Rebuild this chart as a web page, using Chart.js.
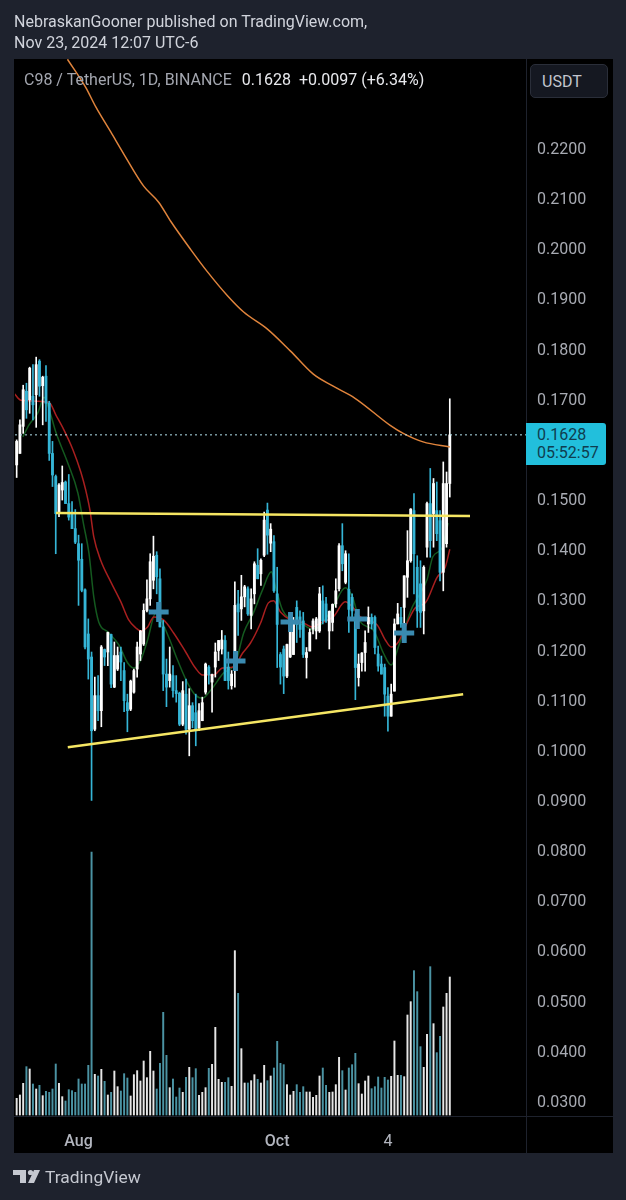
<!DOCTYPE html>
<html>
<head>
<meta charset="utf-8">
<title>C98 / TetherUS</title>
<script src="https://cdn.jsdelivr.net/npm/chart.js@4"></script>
<style>
  html, body { margin: 0; padding: 0; background: #1e222d; }
  body { position: relative; width: 626px; height: 1200px; overflow: hidden; font-family: Roboto, sans-serif; }
  .abs { position: absolute; white-space: pre; }
  #panel { left: 14px; top: 59px; width: 599px; height: 1094px; background: #000; }
  #vline { left: 526px; top: 59px; width: 1px; height: 1094px; background: #1e222d; }
  #hline { left: 14px; top: 1116px; width: 599px; height: 1px; background: #1e222d; }
  #toolChart { position: absolute; left: 0; top: 0; }
  .head { left: 14px; color: #d1d4dc; font-size: 16px; line-height: 20px; }
  #legend { left: 24px; top: 70px; font-size: 16px; line-height: 20px; color: #a3a6af; }
  #legend b { font-weight: 400; color: #e8e9ed; margin-left: 6px; }
  #usdt { left: 530px; top: 64px; width: 78px; height: 34px; box-sizing: border-box; border: 1px solid #2a2e39; border-radius: 5px; background: #151821; color: #c3c6ce; font-size: 16px; line-height: 33px; padding-left: 11px; }
  #priceTag { left: 526px; top: 423px; width: 80px; height: 42px; background: #22bfdc; border-radius: 0 3px 3px 0; color: #0f3d4f; font-size: 16px; line-height: 18px; padding: 3px 0 0 11px; box-sizing: border-box; }
  #brand { left: 45px; top: 1166px; color: #c5c8d0; font-size: 17.4px; line-height: 22px; }
  #logo { left: 13px; top: 1169px; }
</style>
</head>
<body>
<div class="abs" id="panel"></div>
<div class="abs" id="vline"></div>
<div class="abs" id="hline"></div>
<canvas id="toolChart" width="626" height="1200"></canvas>
<div class="abs head" style="top:12px">NebraskanGooner published on TradingView.com,</div>
<div class="abs head" style="top:33px">Nov 23, 2024 12:07 UTC-6</div>
<div class="abs" id="legend">C98 / TetherUS, 1D, BINANCE <b>0.1628  +0.0097 (+6.34%)</b></div>
<div class="abs" id="usdt">USDT</div>
<div class="abs" id="priceTag">0.1628
05:52:57</div>
<svg class="abs" id="logo" width="28" height="15" viewBox="0 0 28 15">
  <path d="M0 1h13v13H7V6H0z M27 1l-6 13h-6l6-13z" fill="#c5c8d0"/>
  <circle cx="17.5" cy="3.5" r="2.6" fill="#c5c8d0"/>
</svg>
<div class="abs" id="brand">TradingView</div>

<script>
// ==================== C98 / USDT daily chart ====================

const opens = [
  .1568,.1591,.1645,.1715,.1698,.1705,.1708,.1775,.1726,.1745,
  .1691,.1591,.1545,.1471,.1518,.1534,.1491,.1474,.1441,.1411,
  .1380,.1319,.1231,.1185,.1041,.1108,.1078,.1200,.1195,.1230,
  .1125,.1161,.1195,.1158,.1094,.1081,.1115,.1161,.1191,.1211,
  .1278,.1301,.1338,.1388,.1341,.1245,.1151,.1138,.1148,.1118,
  .1113,.1051,.1111,.1041,.1088,.1074,.1044,.1058,.1115,.1165,
  .1135,.1165,.1198,.1201,.1218,.1165,.1128,.1158,.1291,.1281,
  .1305,.1321,.1268,.1311,.1368,.1351,.1388,.1478,.1412,.1415,
  .1311,.1190,.1201,.1147,.1185,.1190,.1284,.1265,.1257,.1184,
  .1197,.1241,.1237,.1237,.1297,.1291,.1237,.1254,.1291,.1321,
  .1407,.1334,.1320,.1304,.1264,.1144,.1174,.1194,.1251,.1264,
  .1264,.1191,.1171,.1164,.1107,.1067,.1117,.1251,.1264,.1284,
  .1344,.1377,.1477,.1364,.1331,.1277,.1404,.1491,.1471,.1477,
  .1457,.1354,.1411,.1531
];
const highs = [
  .1618,.1658,.1727,.1731,.1763,.1768,.1783,.1778,.1745,.1766,
  .1695,.1615,.1548,.1531,.1566,.1536,.1549,.1495,.1479,.1428,
  .1411,.1321,.1261,.1195,.1145,.1148,.1208,.1201,.1235,.1231,
  .1215,.1205,.1205,.1174,.1111,.1139,.1161,.1215,.1238,.1291,
  .1339,.1391,.1426,.1395,.1361,.1258,.1181,.1205,.1168,.1148,
  .1115,.1136,.1141,.1122,.1094,.1111,.1092,.1105,.1173,.1168,
  .1151,.1213,.1218,.1238,.1228,.1195,.1158,.1335,.1318,.1348,
  .1328,.1325,.1321,.1375,.1401,.1381,.1474,.1492,.1451,.1427,
  .1364,.1194,.1207,.1211,.1264,.1264,.1297,.1277,.1274,.1204,
  .1241,.1261,.1264,.1324,.1327,.1304,.1277,.1291,.1341,.1411,
  .1451,.1397,.1391,.1311,.1271,.1191,.1194,.1237,.1285,.1271,
  .1267,.1207,.1187,.1171,.1124,.1131,.1261,.1292,.1284,.1347,
  .1437,.1481,.1511,.1387,.1377,.1367,.1494,.1561,.1541,.1534,
  .1477,.1574,.1554,.1700
];
const lows = [
  .1543,.1591,.1631,.1661,.1671,.1658,.1643,.1705,.1648,.1655,
  .1577,.1525,.1391,.1465,.1498,.1491,.1458,.1441,.1411,.1288,
  .1315,.1201,.1141,.0899,.1038,.1058,.1046,.1168,.1168,.1124,
  .1124,.1158,.1138,.1076,.1036,.1078,.1113,.1145,.1178,.1208,
  .1275,.1288,.1321,.1311,.1245,.1118,.1086,.1125,.1105,.1095,
  .1048,.1048,.1031,.0988,.1044,.1008,.1038,.1058,.1111,.1131,
  .1075,.1145,.1178,.1191,.1138,.1121,.1121,.1125,.1228,.1258,
  .1285,.1268,.1241,.1291,.1341,.1328,.1385,.1390,.1395,.1314,
  .1164,.1131,.1112,.1144,.1184,.1190,.1214,.1224,.1184,.1143,
  .1197,.1231,.1221,.1234,.1251,.1254,.1201,.1237,.1284,.1317,
  .1357,.1331,.1234,.1264,.1100,.1127,.1157,.1157,.1234,.1241,
  .1191,.1157,.1151,.1067,.1037,.1067,.1117,.1251,.1244,.1251,
  .1304,.1374,.1311,.1244,.1244,.1231,.1384,.1384,.1404,.1417,
  .1337,.1317,.1404,.1504
];
const closes = [
  .1615,.1648,.1718,.1678,.1761,.1688,.1768,.1725,.1743,.1691,
  .1591,.1548,.1471,.1528,.1533,.1491,.1464,.1441,.1414,.1378,
  .1318,.1205,.1181,.1038,.1108,.1078,.1205,.1185,.1234,.1131,
  .1188,.1188,.1175,.1098,.1078,.1137,.1158,.1205,.1237,.1278,
  .1301,.1375,.1386,.1345,.1245,.1151,.1125,.1151,.1118,.1112,
  .1051,.1118,.1041,.1088,.1058,.1041,.1078,.1094,.1171,.1150,
  .1150,.1195,.1218,.1219,.1138,.1138,.1151,.1288,.1275,.1305,
  .1325,.1271,.1301,.1371,.1341,.1378,.1458,.1428,.1440,.1317,
  .1250,.1165,.1147,.1210,.1255,.1250,.1250,.1240,.1190,.1194,
  .1234,.1257,.1261,.1311,.1257,.1257,.1276,.1290,.1317,.1407,
  .1371,.1391,.1280,.1277,.1164,.1171,.1193,.1214,.1264,.1251,
  .1204,.1167,.1151,.1111,.1067,.1111,.1251,.1271,.1251,.1347,
  .1377,.1480,.1391,.1277,.1274,.1364,.1491,.1417,.1531,.1431,
  .1354,.1531,.1531,.1628
];
// relative volume, no scale on the picture
const volumes = [
  50,60,95,145,138,93,78,89,58,71,
  68,78,153,95,55,42,76,73,68,108,
  93,93,149,789,122,117,137,101,60,68,
  132,85,72,124,111,57,121,133,102,162,
  112,191,132,78,155,308,179,82,108,54,
  81,68,113,143,112,139,59,68,82,140,
  152,263,107,98,98,112,86,493,365,
  199,96,96,103,121,107,96,149,103,117,
  141,221,155,151,91,60,71,91,68,85,
  69,69,53,59,117,141,89,68,69,91,
  173,133,75,141,151,185,94,63,102,117,
  79,85,114,81,113,105,116,222,119,119,
  115,300,340,433,370,205,143,242,445,274,
  187,236,324,365,414
];

// moving averages, read at these bar positions
const redDays = [-0.8,1.3,9.9,12.1,14.5,17.3,19.7,21.2,22.5,23.7,25.8,28.9,32,34.4,36.6,38.1,40.2,42.1,45.1,48.2,51.9,54.9,57.1,60.5,63.2,66.6,69.4,71.8,74.9,77.3,78.9,81,84.1,88.1,90.8,93.3,97.2,100.9,103.1,105.5,110.7,113.2,115,117.2,119.9,122.4,125.5,129.1,131.6,133];
const redValues = [.1711,.1697,.1693,.1667,.1638,.1598,.1554,.1518,.1478,.1424,.1378,.1335,.1295,.1259,.1243,.1237,.1245,.1265,.1259,.1233,.1195,.1163,.1149,.1149,.1163,.1165,.1193,.1213,.1253,.1293,.1297,.1275,.1259,.1253,.1245,.1253,.1265,.1295,.1285,.1265,.1249,.1219,.1205,.1215,.1253,.1283,.1293,.1344,.1364,.1400];
const greenDays = [1.9,3.8,6.5,8.4,10.5,12.1,15.7,18.8,20.6,22.2,23.7,25.2,28,31.4,34.1,36,38.1,40.2,42.7,46.4,49.4,52.5,54.9,57.1,59.6,63.5,67.2,69.7,72.7,75.5,78.2,79.5,81.6,84.1,88.1,91.1,93.9,97.2,100.9,103.1,105.5,109.5,112.6,115,117.2,121.5,123.3,126,127.8,130.7,132.5];
const greenValues = [.1624,.1648,.1672,.1703,.1667,.1632,.1572,.1512,.1448,.1392,.1304,.1255,.1235,.1209,.1173,.1163,.1179,.1219,.1273,.1229,.1179,.1133,.1109,.1103,.1119,.1153,.1173,.1233,.1273,.1319,.1355,.1325,.1279,.1259,.1249,.1239,.1253,.1285,.1323,.1305,.1255,.1239,.1193,.1169,.1205,.1285,.1305,.1339,.1385,.1403,.1452];
const orangeDays = [15.6,21.2,24.3,28.9,32.9,39,43.6,47.3,53.4,58.6,64.8,69.7,77,84.1,91.1,97.2,103.9,114.7,118.7,124.8,133];
const orangeValues = [.2377,.2321,.2282,.2232,.2188,.2124,.2092,.2054,.1998,.1953,.1905,.1873,.1839,.1795,.1749,.1725,.1701,.1647,.1631,.1614,.1604];

// hand drawn trend lines and the cross marks
const resistanceDays = [12.1,139.2];
const resistanceValues = [.1472,.1466];
const supportDays = [15.7,137.1];
const supportValues = [.1005,.1111];
const crossDays = [43.6,67.2,84.1,104.6,119];
const crossValues = [.1275,.1177,.1255,.1261,.1233];

const lastPrice = .1628;
const priceTicks = [.22,.21,.20,.19,.18,.17,.16,.15,.14,.13,.12,.11,.10,.09,.08,.07,.06,.05,.04,.03];
const timeTickDays = [19,80,114];
const timeTickLabels = ['Aug','Oct','4'];

const UP = '#ffffff';
const DOWN = '#35b5d6';
const VOL_UP = '#e6e6e6';
const VOL_DOWN = '#4b93a3';
const X_MIN = -0.51, X_MAX = 156.4;

function toPoints(xs, ys) {
  return xs.map((x, i) => ({ x, y: ys[i] }));
}

function lineSet(xs, ys, color, width, order, extra) {
  return Object.assign({
    type: 'line', data: toPoints(xs, ys), borderColor: color, borderWidth: width,
    pointRadius: 0, cubicInterpolationMode: 'monotone', yAxisID: 'y', order
  }, extra || {});
}

const isUp = opens.map((o, i) => closes[i] >= o);
const candleColors = isUp.map(u => u ? UP : DOWN);

const datasets = [
  {
    label: 'Volume', yAxisID: 'yVol', order: 6, barThickness: 1.3, grouped: false,
    data: volumes.map((v, i) => ({ x: i, y: v })),
    backgroundColor: isUp.map(u => u ? VOL_UP : VOL_DOWN)
  },
  lineSet(redDays, redValues, '#a81f1f', 1.5, 5),
  lineSet(greenDays, greenValues, '#14591f', 1.5, 5),
  {
    label: 'Wicks', yAxisID: 'y', order: 4, barThickness: 1, grouped: false,
    data: opens.map((o, i) => ({ x: i, y: [lows[i], highs[i]] })),
    backgroundColor: candleColors
  },
  {
    label: 'Bodies', yAxisID: 'y', order: 3, barThickness: 2.2, grouped: false,
    data: opens.map((o, i) => ({ x: i, y: [o, closes[i]] })),
    backgroundColor: candleColors
  },
  lineSet([X_MIN, X_MAX], [lastPrice, lastPrice], '#b5e3ee', 1, 2, { borderDash: [2, 3], cubicInterpolationMode: 'default' }),
  lineSet(orangeDays, orangeValues, '#e0843c', 1.5, 2),
  lineSet(resistanceDays, resistanceValues, '#f5e663', 2.5, 1, { cubicInterpolationMode: 'default' }),
  lineSet(supportDays, supportValues, '#f5e663', 2.5, 1, { cubicInterpolationMode: 'default' }),
  {
    type: 'scatter', label: 'Marks', yAxisID: 'y', order: 0, data: toPoints(crossDays, crossValues),
    pointStyle: 'cross', pointRadius: 10, pointBorderWidth: 5, pointBorderColor: '#3a8ab0', pointBackgroundColor: '#3a8ab0'
  }
];

new Chart(document.getElementById('toolChart'), {
  type: 'bar',
  data: { datasets },
  options: {
    responsive: false,
    animation: false,
    layout: { padding: { left: 14, top: 59, right: 13, bottom: 47 } },
    plugins: { legend: { display: false }, tooltip: { enabled: false } },
    scales: {
      x: {
        type: 'linear', offset: false, min: X_MIN, max: X_MAX,
        grid: { display: false }, border: { display: false },
        afterBuildTicks: s => { s.ticks = timeTickDays.map(value => ({ value })); },
        afterFit: s => { s.height = 37; },
        ticks: {
          autoSkip: false, maxRotation: 0, padding: 8, color: '#b2b5be',
          font: c => ({ family: 'Roboto', size: 16, weight: c.tick && c.tick.value === 114 ? 400 : 500 }),
          callback: v => timeTickLabels[timeTickDays.indexOf(v)]
        }
      },
      y: {
        position: 'right', min: 0.02698, max: 0.23775,
        grid: { display: false }, border: { display: false },
        afterBuildTicks: s => { s.ticks = priceTicks.map(value => ({ value })); },
        afterFit: s => { s.width = 87; },
        ticks: {
          autoSkip: false, padding: 3, labelOffset: 2, crossAlign: 'near', color: '#a8abb3',
          font: { family: 'Roboto', size: 16 },
          callback: v => v.toFixed(4)
        }
      },
      yVol: { display: false, min: -3, max: 3168 }
    }
  }
});
</script>
</body>
</html>
